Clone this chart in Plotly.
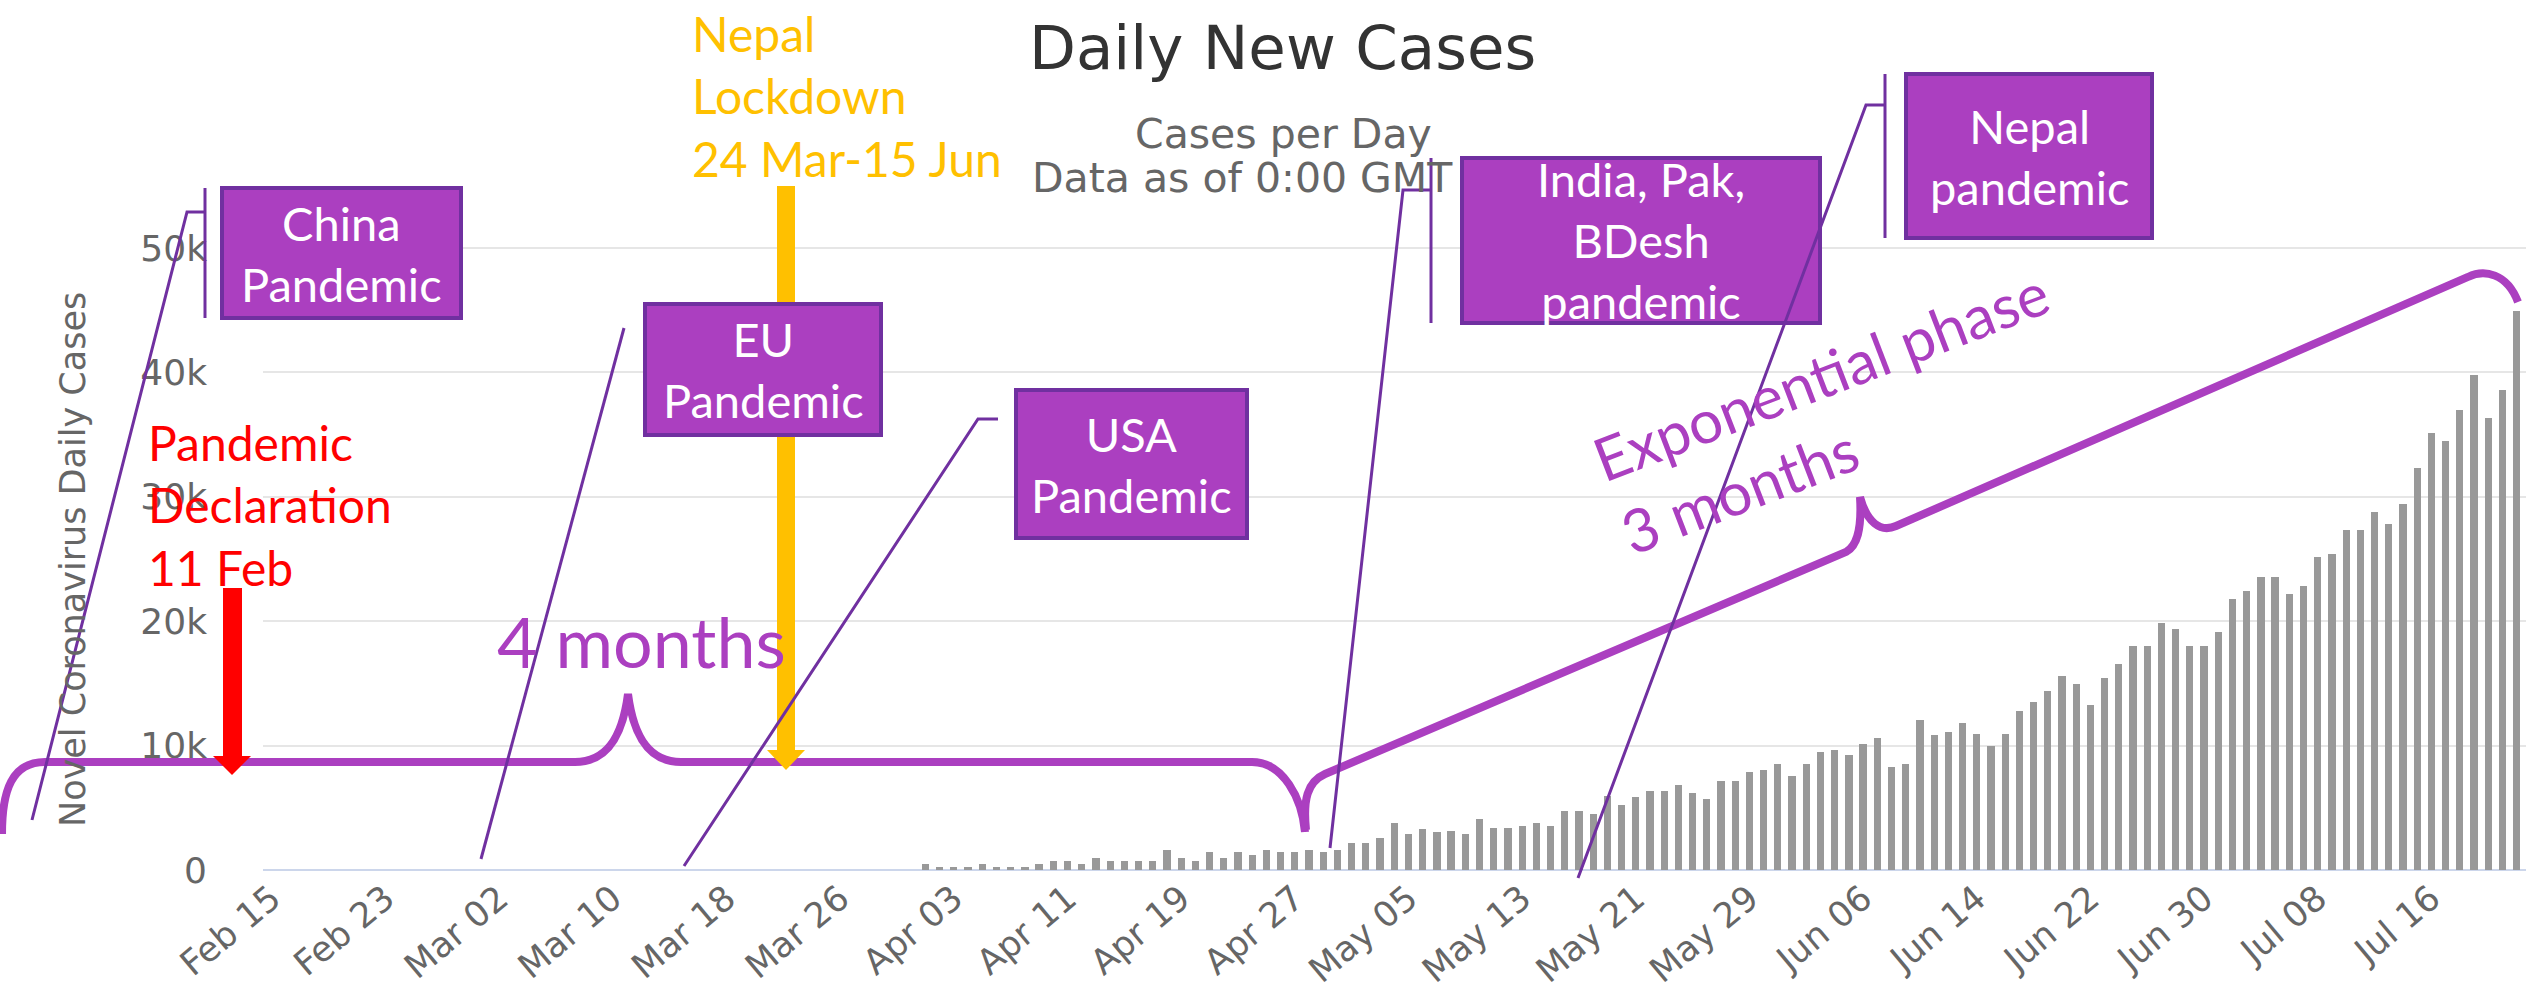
import datetime as dt
import plotly.graph_objects as go

# ---------------- data ----------------
start_date = dt.date(2020, 2, 15)
# Feb 15 - Mar 31: nothing visible on the chart
feb_mar_cases = [0] * 46
apr_cases = [480, 270, 270, 270, 480, 270, 270, 270, 480, 750,
             750, 480, 965, 750, 750, 750, 750, 1635, 965, 750,
             1420, 965, 1420, 1205, 1635, 1420, 1420, 1635, 1420, 1635]
may_cases = [2145, 2145, 2600, 3750, 2870, 3300, 3080, 3100, 2890, 4070,
             3350, 3350, 3560, 3780, 3560, 4770, 4770, 4500, 5950, 5225,
             5890, 6375, 6375, 6860, 6165, 5710, 7130, 7130, 7850, 8040, 8520]
jun_cases = [7580, 8520, 9460, 9670, 9245, 10155, 10635, 8280, 8520, 12060,
             10880, 11120, 11840, 10930, 9970, 10930, 12810, 13505, 14415, 15620,
             14925, 13265, 15410, 16560, 18010, 18010, 19830, 19400, 18010, 18010]
jul_cases = [19160, 21760, 22450, 23580, 23550, 22150, 22800, 25200, 25430, 27330,
             27330, 28775, 27820, 29430, 32285, 35105, 34450, 37010, 39830, 36320,
             38620, 44950]
cases = feb_mar_cases + apr_cases + may_cases + jun_cases + jul_cases
dates = [start_date + dt.timedelta(days=i) for i in range(len(cases))]

tick_dates = [start_date + dt.timedelta(days=8 * i) for i in range(20)]
tick_text = ["Feb 15", "Feb 23", "Mar 02", "Mar 10", "Mar 18", "Mar 26", "Apr 03",
             "Apr 11", "Apr 19", "Apr 27", "May 05", "May 13", "May 21", "May 29",
             "Jun 06", "Jun 14", "Jun 22", "Jun 30", "Jul 08", "Jul 16"]
y_ticks = [0, 10000, 20000, 30000, 40000, 50000]
y_tick_text = ["0", "10k", "20k", "30k", "40k", "50k"]

# ---------------- geometry ----------------
W, H = 2526, 997
PL, PR, PT, PB = 263, 2526, 173, 870
PX_PER_10K = 124.4
y_max = (PB - PT) / PX_PER_10K * 10000
x_lo = "2020-02-14 08:56"
x_hi = "2020-07-22 15:50"


def fx(px):
    return (px - PL) / (PR - PL)


def fy(py):
    return (PB - py) / (PB - PT)


def path(cmds):
    out = []
    for c, pts in cmds:
        s = c + " " + " ".join(f"{fx(x):.5f},{fy(y):.5f}" for x, y in pts)
        out.append(s)
    return " ".join(out)


PURPLE = "#AB3FC0"
DARKP = "#7030A0"
ORANGE = "#FFC000"

fig = go.Figure()
fig.add_trace(go.Bar(x=dates, y=cases, marker=dict(color="#999999", line=dict(width=0)),
                     width=0.51 * 86400000))

shapes = []
annotations = []

# braces
shapes.append(dict(type="path", xref="paper", yref="paper", line=dict(color=PURPLE, width=8),
                   path=path([("M", [(2, 834)]), ("C", [(2, 790), (12, 762), (45, 762)]),
                              ("L", [(575, 762)]), ("C", [(605, 762), (622, 740), (628, 694)]),
                              ("C", [(634, 740), (651, 762), (681, 762)]),
                              ("L", [(1252, 762)]), ("C", [(1283, 762), (1302, 798), (1305, 832)])])))
shapes.append(dict(type="path", xref="paper", yref="paper", line=dict(color=PURPLE, width=8),
                   path=path([("M", [(1306, 830)]), ("C", [(1303, 800), (1307, 782), (1325, 774)]),
                              ("L", [(1846, 552)]), ("C", [(1857, 546), (1862, 530), (1860, 497)]),
                              ("C", [(1867, 522), (1880, 533), (1896, 526)]),
                              ("L", [(2468, 277)]), ("C", [(2484, 269), (2507, 273), (2518, 302)])])))

# boxes
boxes = [((222, 188, 461, 318), "China<br>Pandemic"),
         ((645, 304, 881, 435), "EU<br>Pandemic"),
         ((1016, 390, 1247, 538), "USA<br>Pandemic"),
         ((1462, 158, 1820, 323), "India, Pak,<br>BDesh<br>pandemic"),
         ((1906, 74, 2152, 238), "Nepal<br>pandemic")]

# orange arrow (below boxes)
shapes.append(dict(type="rect", xref="paper", yref="paper", x0=fx(777), x1=fx(795), y0=fy(752), y1=fy(186),
                   fillcolor=ORANGE, line=dict(width=0)))
shapes.append(dict(type="path", xref="paper", yref="paper", fillcolor=ORANGE, line=dict(width=0),
                   path=path([("M", [(767, 750)]), ("L", [(805, 750)]), ("L", [(786, 770)])]) + " Z"))

for (x0, y0, x1, y1), txt in boxes:
    shapes.append(dict(type="rect", xref="paper", yref="paper", x0=fx(x0), x1=fx(x1), y0=fy(y1), y1=fy(y0),
                       fillcolor=PURPLE, line=dict(color=DARKP, width=4)))
    annotations.append(dict(xref="paper", yref="paper", x=fx((x0 + x1) / 2), y=fy((y0 + y1) / 2),
                            text=txt, showarrow=False, xanchor="center", yanchor="middle",
                            font=dict(family="Lato", size=47, color="white")))

# red arrow
shapes.append(dict(type="rect", xref="paper", yref="paper", x0=fx(223), x1=fx(242), y0=fy(758), y1=fy(588),
                   fillcolor="#FF0000", line=dict(width=0)))
shapes.append(dict(type="path", xref="paper", yref="paper", fillcolor="#FF0000", line=dict(width=0),
                   path=path([("M", [(213, 756)]), ("L", [(251, 756)]), ("L", [(232, 775)])]) + " Z"))

# callout lines
callouts = [
    [(205, 188), (205, 318)], [(205, 212), (187, 212), (32, 820)],
    [(624, 328), (481, 859)],
    [(998, 419), (978, 419), (684, 866)],
    [(1431, 158), (1431, 323)], [(1431, 190), (1403, 190), (1330, 848)],
    [(1885, 74), (1885, 238)], [(1885, 105), (1866, 105), (1578, 878)],
]
for pts in callouts:
    shapes.append(dict(type="path", xref="paper", yref="paper", line=dict(color=DARKP, width=3),
                       path=path([("M", [pts[0]])] + [("L", [p]) for p in pts[1:]])))

# texts
annotations += [
    dict(x=fx(1282), y=fy(48), text="Daily New Cases", font=dict(family="DejaVu Sans", size=61, color="#333333"),
         xanchor="center", yanchor="middle"),
    dict(x=fx(1283), y=fy(134), text="Cases per Day", font=dict(family="DejaVu Sans", size=41, color="#666666"),
         xanchor="center", yanchor="middle"),
    dict(x=fx(1030), y=fy(178), text="Data as of 0:00 GMT", font=dict(family="DejaVu Sans", size=41, color="#666666"),
         xanchor="left", yanchor="middle"),
    dict(x=fx(73), y=fy(560), text="Novel Coronavirus Daily Cases", textangle=-90,
         font=dict(family="DejaVu Sans", size=35, color="#666666"), xanchor="center", yanchor="middle"),
    dict(x=fx(690), y=fy(3), text="Nepal<br>Lockdown<br>24 Mar-15 Jun", align="left",
         font=dict(family="Lato", size=48, color=ORANGE), xanchor="left", yanchor="top"),
    dict(x=fx(146), y=fy(412), text="Pandemic<br>Declaration<br>11 Feb", align="left",
         font=dict(family="Lato", size=48, color="#FF0000"), xanchor="left", yanchor="top"),
    dict(x=fx(641), y=fy(641), text="4 months", font=dict(family="Lato", size=70, color=PURPLE),
         xanchor="center", yanchor="middle"),
    dict(x=fx(1834), y=fy(412), text="Exponential phase<br>3 months", align="left", textangle=-21,
         font=dict(family="Lato", size=60, color=PURPLE), xanchor="center", yanchor="middle"),
]
for a in annotations:
    a.setdefault("xref", "paper")
    a.setdefault("yref", "paper")
    a["showarrow"] = False

fig.update_layout(
    width=W, height=H,
    margin=dict(l=PL, r=W - PR, t=PT, b=H - PB, pad=0, autoexpand=False),
    paper_bgcolor="white", plot_bgcolor="white",
    showlegend=False, bargap=0,
    shapes=shapes, annotations=annotations,
    xaxis=dict(type="date", range=[x_lo, x_hi], tickvals=tick_dates, ticktext=tick_text,
               tickangle=-40, tickfont=dict(family="DejaVu Sans", size=35, color="#666666"),
               showgrid=False, showline=False, zeroline=False, ticks="", automargin=False),
    yaxis=dict(range=[0, y_max], tickvals=y_ticks, ticktext=y_tick_text,
               tickfont=dict(family="DejaVu Sans", size=36, color="#666666"),
               gridcolor="#e6e6e6", gridwidth=2, zeroline=True, zerolinecolor="#ccd6eb",
               zerolinewidth=2, showline=False, ticks="", ticklabelstandoff=55, automargin=False),
)

fig.write_html("out.html", config={"displayModeBar": False},
               post_script="document.body.style.margin='0';document.body.style.overflow='hidden';")
